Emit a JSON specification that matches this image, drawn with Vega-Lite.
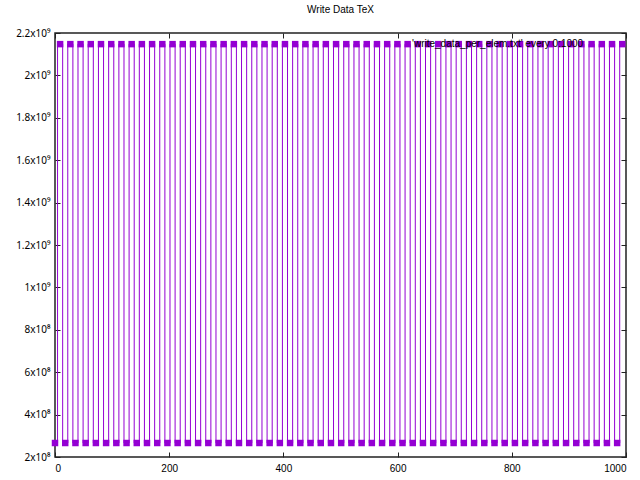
{
  "$schema": "https://vega.github.io/schema/vega-lite/v6.json",
  "width": 571,
  "height": 424,
  "autosize": {"type": "none"},
  "padding": {"left": 55, "top": 33, "right": 14, "bottom": 23},
  "title": {"text": "Write Data TeX", "fontSize": 10, "font": "Liberation Sans", "fontWeight": "normal", "color": "#000", "offset": 13},
  "config": {
    "view": {"stroke": "#222", "strokeWidth": 1.5},
    "axis": {"grid": false, "domain": false, "tickColor": "#222", "tickSize": -5, "tickWidth": 1, "labelFont": "Noto Sans", "labelFontSize": 10, "labelColor": "#000", "title": null}
  },
  "data": {"values": [
    {"x": 0, "y": 266000000}, {"x": 8.95, "y": 2147483648}, {"x": 17.9, "y": 266000000}, {"x": 26.85, "y": 2147483648},
    {"x": 35.8, "y": 266000000}, {"x": 44.75, "y": 2147483648}, {"x": 53.7, "y": 266000000}, {"x": 62.65, "y": 2147483648},
    {"x": 71.6, "y": 266000000}, {"x": 80.55, "y": 2147483648}, {"x": 89.5, "y": 266000000}, {"x": 98.45, "y": 2147483648},
    {"x": 107.4, "y": 266000000}, {"x": 116.35, "y": 2147483648}, {"x": 125.3, "y": 266000000}, {"x": 134.25, "y": 2147483648},
    {"x": 143.2, "y": 266000000}, {"x": 152.15, "y": 2147483648}, {"x": 161.1, "y": 266000000}, {"x": 170.05, "y": 2147483648},
    {"x": 179, "y": 266000000}, {"x": 187.95, "y": 2147483648}, {"x": 196.9, "y": 266000000}, {"x": 205.85, "y": 2147483648},
    {"x": 214.8, "y": 266000000}, {"x": 223.75, "y": 2147483648}, {"x": 232.7, "y": 266000000}, {"x": 241.65, "y": 2147483648},
    {"x": 250.6, "y": 266000000}, {"x": 259.55, "y": 2147483648}, {"x": 268.5, "y": 266000000}, {"x": 277.45, "y": 2147483648},
    {"x": 286.4, "y": 266000000}, {"x": 295.35, "y": 2147483648}, {"x": 304.3, "y": 266000000}, {"x": 313.25, "y": 2147483648},
    {"x": 322.2, "y": 266000000}, {"x": 331.15, "y": 2147483648}, {"x": 340.1, "y": 266000000}, {"x": 349.05, "y": 2147483648},
    {"x": 358, "y": 266000000}, {"x": 366.95, "y": 2147483648}, {"x": 375.9, "y": 266000000}, {"x": 384.85, "y": 2147483648},
    {"x": 393.8, "y": 266000000}, {"x": 402.75, "y": 2147483648}, {"x": 411.7, "y": 266000000}, {"x": 420.65, "y": 2147483648},
    {"x": 429.6, "y": 266000000}, {"x": 438.55, "y": 2147483648}, {"x": 447.5, "y": 266000000}, {"x": 456.45, "y": 2147483648},
    {"x": 465.4, "y": 266000000}, {"x": 474.35, "y": 2147483648}, {"x": 483.3, "y": 266000000}, {"x": 492.25, "y": 2147483648},
    {"x": 501.2, "y": 266000000}, {"x": 510.15, "y": 2147483648}, {"x": 519.1, "y": 266000000}, {"x": 528.05, "y": 2147483648},
    {"x": 537, "y": 266000000}, {"x": 545.95, "y": 2147483648}, {"x": 554.9, "y": 266000000}, {"x": 563.85, "y": 2147483648},
    {"x": 572.8, "y": 266000000}, {"x": 581.75, "y": 2147483648}, {"x": 590.7, "y": 266000000}, {"x": 599.65, "y": 2147483648},
    {"x": 608.6, "y": 266000000}, {"x": 617.55, "y": 2147483648}, {"x": 626.5, "y": 266000000}, {"x": 635.45, "y": 2147483648},
    {"x": 644.4, "y": 266000000}, {"x": 653.35, "y": 2147483648}, {"x": 662.3, "y": 266000000}, {"x": 671.25, "y": 2147483648},
    {"x": 680.2, "y": 266000000}, {"x": 689.15, "y": 2147483648}, {"x": 698.1, "y": 266000000}, {"x": 707.05, "y": 2147483648},
    {"x": 716, "y": 266000000}, {"x": 724.95, "y": 2147483648}, {"x": 733.9, "y": 266000000}, {"x": 742.85, "y": 2147483648},
    {"x": 751.8, "y": 266000000}, {"x": 760.75, "y": 2147483648}, {"x": 769.7, "y": 266000000}, {"x": 778.65, "y": 2147483648},
    {"x": 787.6, "y": 266000000}, {"x": 796.55, "y": 2147483648}, {"x": 805.5, "y": 266000000}, {"x": 814.45, "y": 2147483648},
    {"x": 823.4, "y": 266000000}, {"x": 832.35, "y": 2147483648}, {"x": 841.3, "y": 266000000}, {"x": 850.25, "y": 2147483648},
    {"x": 859.2, "y": 266000000}, {"x": 868.15, "y": 2147483648}, {"x": 877.1, "y": 266000000}, {"x": 886.05, "y": 2147483648},
    {"x": 895, "y": 266000000}, {"x": 903.95, "y": 2147483648}, {"x": 912.9, "y": 266000000}, {"x": 921.85, "y": 2147483648},
    {"x": 930.8, "y": 266000000}, {"x": 939.75, "y": 2147483648}, {"x": 948.7, "y": 266000000}, {"x": 957.65, "y": 2147483648},
    {"x": 966.6, "y": 266000000}, {"x": 975.55, "y": 2147483648}, {"x": 984.5, "y": 266000000}, {"x": 993.45, "y": 2147483648}
  ]},
  "layer": [
    {
      "mark": {"type": "line", "interpolate": "step", "color": "#9400D3", "strokeWidth": 1},
      "encoding": {
        "x": {"field": "x", "type": "quantitative", "scale": {"domain": [0, 1000], "nice": false, "zero": false},
              "axis": {"orient": "bottom", "values": [0, 200, 400, 600, 800, 1000], "format": "d", "labelPadding": 11, "labelFont": "Liberation Sans"}},
        "y": {"field": "y", "type": "quantitative", "scale": {"domain": [200000000, 2200000000], "nice": false, "zero": false},
              "axis": {"orient": "left", "values": [200000000, 400000000, 600000000, 800000000, 1000000000, 1200000000, 1400000000, 1600000000, 1800000000, 2000000000, 2200000000],
                       "labelPadding": 10,
                       "labelExpr": "datum.value >= 1000000000 ? format(datum.value / 1000000000, '~g') + 'x10⁹' : format(datum.value / 100000000, '~g') + 'x10⁸'"}}
      }
    },
    {
      "mark": {"type": "square", "color": "#9400D3", "size": 42, "opacity": 1},
      "encoding": {
        "x": {"field": "x", "type": "quantitative", "axis": {"orient": "top", "values": [0, 200, 400, 600, 800, 1000], "labels": false}},
        "y": {"field": "y", "type": "quantitative", "axis": {"orient": "right", "values": [200000000, 400000000, 600000000, 800000000, 1000000000, 1200000000, 1400000000, 1600000000, 1800000000, 2000000000, 2200000000], "labels": false}}
      }
    },
    {
      "data": {"values": [{"label": "'write_data_per_elem.txt' every 0:1000", "x": 925, "y": 2147483648}]},
      "mark": {"type": "text", "align": "right", "baseline": "middle", "fontSize": 10, "font": "Liberation Sans", "color": "#000"},
      "encoding": {
        "x": {"field": "x", "type": "quantitative", "axis": null},
        "y": {"field": "y", "type": "quantitative", "axis": null},
        "text": {"field": "label"}
      }
    }
  ],
  "resolve": {"axis": {"x": "independent", "y": "independent"}}
}
